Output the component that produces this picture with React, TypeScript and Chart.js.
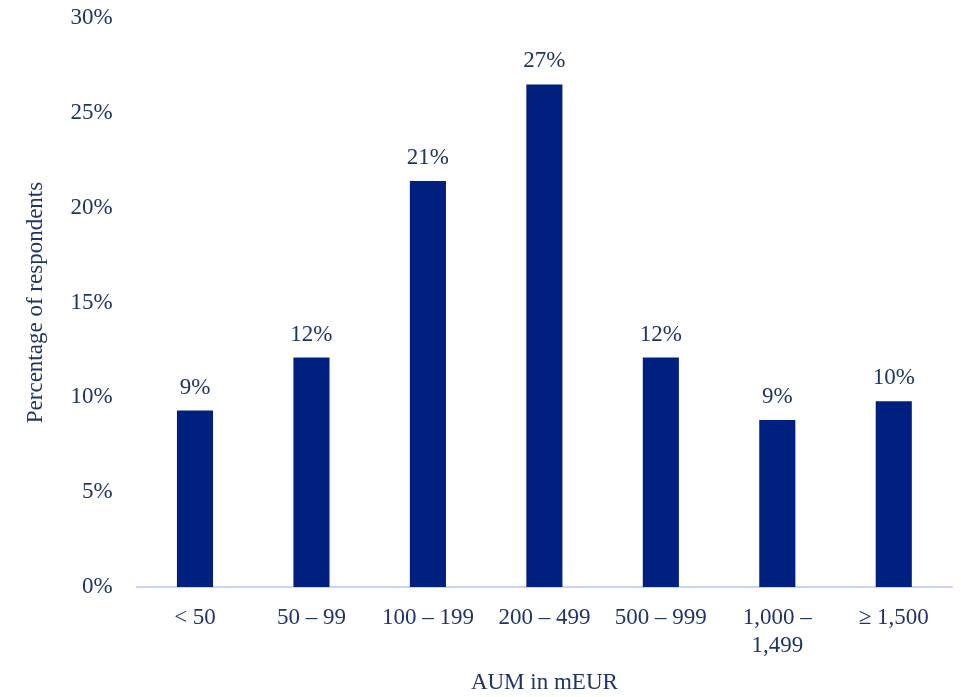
import React, { useEffect, useRef } from "react";
import { Chart, registerables } from "chart.js";

Chart.register(...registerables);

const categories: (string | string[])[] = ["< 50", "50 – 99", "100 – 199", "200 – 499", "500 – 999", ["1,000 –", "1,499"], "≥ 1,500"];
const values: number[] = [9.3, 12.1, 21.4, 26.5, 12.1, 8.8, 9.8];
const valueLabels: string[] = ["9%", "12%", "21%", "27%", "12%", "9%", "10%"];
const yTicks: number[] = [0, 5, 10, 15, 20, 25, 30];

const BAR = "#00207F";
const TEXT = "#1F3468";
const FONT = "'Liberation Serif', 'Times New Roman', serif";

const labelPlugin = {
  id: "valueLabels",
  afterDatasetsDraw(chart: any) {
    const ctx = chart.ctx;
    const meta = chart.getDatasetMeta(0);
    ctx.save();
    ctx.fillStyle = TEXT;
    ctx.font = `23px ${FONT}`;
    ctx.textAlign = "center";
    ctx.textBaseline = "middle";
    meta.data.forEach((el: any, i: number) => {
      ctx.fillText(valueLabels[i], el.x, el.y - 23);
    });
    ctx.restore();
  },
};

export default function App() {
  const ref = useRef<HTMLCanvasElement>(null);
  useEffect(() => {
    document.body.style.margin = "0";
    const chart = new Chart(ref.current!, {
      type: "bar",
      data: {
        labels: categories as any,
        datasets: [
          {
            data: values,
            backgroundColor: BAR,
            barPercentage: 0.31,
            categoryPercentage: 1,
          },
        ],
      },
      options: {
        animation: false,
        responsive: false,
        maintainAspectRatio: false,
        layout: { padding: { top: 0, right: 9, left: 22, bottom: 0 } },
        plugins: { legend: { display: false }, tooltip: { enabled: false } },
        scales: {
          x: {
            grid: { display: false },
            border: { display: true, color: "#C9D3F5", width: 2 },
            afterFit: (s: any) => {
              s.height = 110;
            },
            ticks: {
              color: TEXT,
              font: { family: FONT, size: 23, lineHeight: 1.22 },
              padding: 9,
              maxRotation: 0,
              autoSkip: false,
            },
            title: {
              display: true,
              text: "AUM in mEUR",
              color: TEXT,
              font: { family: FONT, size: 23 },
              padding: { top: 0, bottom: 0 },
            },
          },
          y: {
            min: 0,
            max: 30,
            afterBuildTicks: (s: any) => {
              s.ticks = yTicks.map((v) => ({ value: v }));
            },
            afterFit: (s: any) => {
              s.paddingTop = 18;
            },
            grid: { display: false },
            border: { display: false },
            ticks: {
              color: TEXT,
              font: { family: FONT, size: 23 },
              padding: 16,
              callback: (v: any) => v + "%",
            },
            title: {
              display: true,
              text: "Percentage of respondents",
              color: TEXT,
              font: { family: FONT, size: 23 },
              padding: { top: 0, bottom: 5 },
            },
          },
        },
      },
      plugins: [labelPlugin],
    });
    return () => chart.destroy();
  }, []);
  return (
    <div style={{ width: 961, height: 697 }}>
      <canvas ref={ref} width={961} height={697} style={{ display: "block" }} />
    </div>
  );
}
